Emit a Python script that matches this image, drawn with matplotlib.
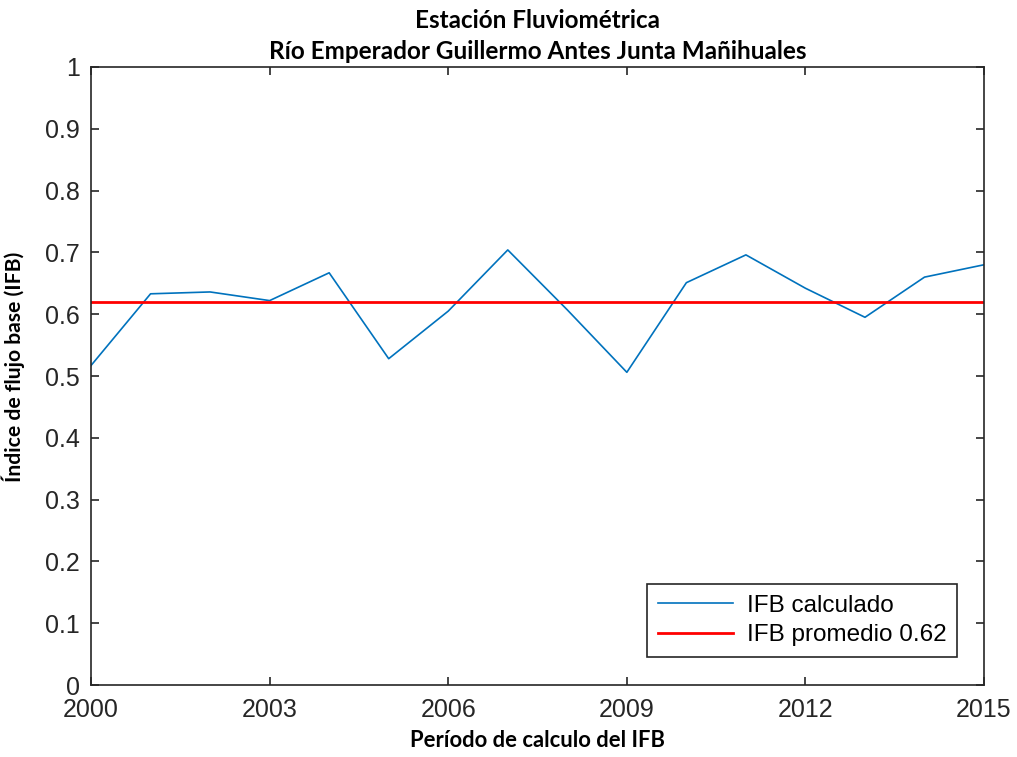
import matplotlib
matplotlib.use("Agg")
import matplotlib.pyplot as plt

years = [2000, 2001, 2002, 2003, 2004, 2005, 2006, 2007,
         2008, 2009, 2010, 2011, 2012, 2013, 2014, 2015]
ifb = [0.517, 0.633, 0.636, 0.622, 0.667, 0.528, 0.605, 0.704,
       0.607, 0.506, 0.651, 0.696, 0.642, 0.595, 0.660, 0.680]
ifb_mean = 0.62
xticks = [2000, 2003, 2006, 2009, 2012, 2015]
yticks = [0, 0.1, 0.2, 0.3, 0.4, 0.5, 0.6, 0.7, 0.8, 0.9, 1]
ytick_labels = ["0", "0.1", "0.2", "0.3", "0.4", "0.5", "0.6", "0.7", "0.8", "0.9", "1"]

label_font = ["Lato", "DejaVu Sans"]
tick_font = ["Liberation Sans", "DejaVu Sans"]

fig = plt.figure(figsize=(10.17, 7.57), dpi=100)
ax = fig.add_axes([0.0895, 0.0951, 0.8781, 0.8164])

ax.plot(years, ifb, color="#0072BD", lw=1.2, label="IFB calculado")
ax.plot([years[0], years[-1]], [ifb_mean, ifb_mean], color="red", lw=2.0,
        label=f"IFB promedio {ifb_mean:.2f}")

ax.set_xlim(2000, 2015)
ax.set_ylim(0, 1)
ax.set_xticks(xticks)
ax.set_yticks(yticks)
ax.set_yticklabels(ytick_labels)
ax.tick_params(direction="in", top=True, right=True, length=6, width=1.2,
               labelsize=18, colors="#262626")
ax.tick_params(axis="x", pad=9)
ax.tick_params(axis="y", pad=8)
for lab in ax.get_xticklabels() + ax.get_yticklabels():
    lab.set_fontfamily(tick_font)
for s in ax.spines.values():
    s.set_linewidth(1.2)
    s.set_color("#262626")

ax.set_title("Estación Fluviométrica\nRío Emperador Guillermo Antes Junta Mañihuales",
             fontsize=17.5, fontweight="bold", family=label_font, linespacing=1.45, pad=5.5)
ax.set_xlabel("Período de calculo del IFB", fontsize=15.8, fontweight="bold",
              family=label_font, labelpad=6)
ax.set_ylabel("Índice de flujo base (IFB)", fontsize=15.2, fontweight="bold",
              family=label_font)
ax.yaxis.set_label_coords(-0.074, 0.515)

leg = ax.legend(loc="lower right", bbox_to_anchor=(0.970, 0.0453), borderaxespad=0,
                frameon=True, fancybox=False, edgecolor="#262626",
                handlelength=3.1, handletextpad=0.55, borderpad=0.45, labelspacing=0.3,
                prop={"family": tick_font, "size": 17.5})
leg.get_frame().set_linewidth(1.2)
leg.get_frame().set_alpha(1)

fig.savefig("out.png", dpi=100)
